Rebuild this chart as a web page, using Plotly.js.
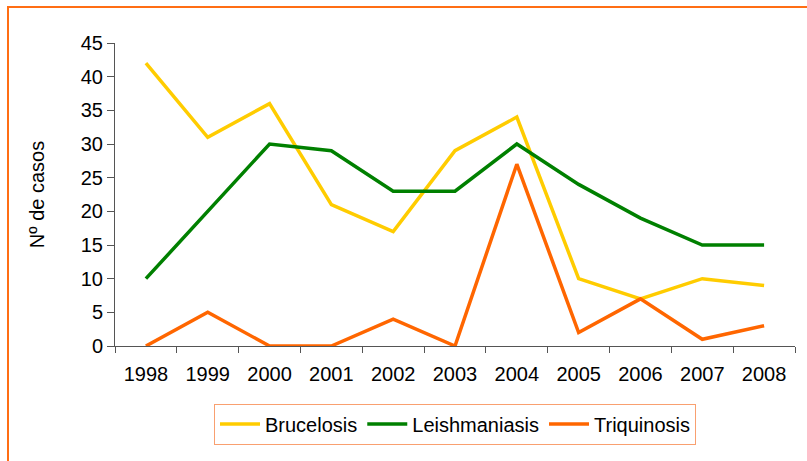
<!DOCTYPE html>
<html>
<head>
<meta charset="utf-8">
<script src="https://cdn.plot.ly/plotly-3.0.1.min.js"></script>
<style>
html,body{margin:0;padding:0;background:#fff;overflow:hidden;}
#frame{position:absolute;left:7px;top:6px;width:830px;height:520px;border:2px solid #FF6E14;box-sizing:border-box;pointer-events:none;z-index:5;}
#chart{position:absolute;left:0;top:0;width:807px;height:461px;}
</style>
</head>
<body>
<div id="chart"></div>
<div id="frame"></div>
<script>
const years = ["1998","1999","2000","2001","2002","2003","2004","2005","2006","2007","2008"];
const brucelosis = [42, 31, 36, 21, 17, 29, 34, 10, 7, 10, 9];
const leishmaniasis = [10, 20, 30, 29, 23, 23, 30, 24, 19, 15, 15];
const triquinosis = [0, 5, 0, 0, 4, 0, 27, 2, 7, 1, 3];
const yTicks = [0, 5, 10, 15, 20, 25, 30, 35, 40, 45];

const mk = (name, y, color) => ({
  x: years, y: y, name: name, type: 'scatter', mode: 'lines',
  line: {color: color, width: 3.5}
});

const data = [
  mk('Brucelosis', brucelosis, '#FFCC00'),
  mk('Leishmaniasis', leishmaniasis, '#008000'),
  mk('Triquinosis', triquinosis, '#FF6600')
];

const layout = {
  width: 807, height: 461,
  margin: {l: 115, r: 12, t: 43, b: 115},
  paper_bgcolor: '#fff', plot_bgcolor: '#fff',
  font: {family: 'Liberation Sans, Arial, sans-serif', size: 20, color: '#000'},
  showlegend: true,
  legend: {
    orientation: 'h', x: 0.5, xanchor: 'center', y: -0.19, yanchor: 'top',
    bordercolor: '#F9A070', borderwidth: 1, bgcolor: '#fff',
    font: {size: 20}, traceorder: 'normal', itemwidth: 40
  },
  xaxis: {
    type: 'category', range: [-0.5, 10.5], tickson: 'boundaries', ticks: 'outside', ticklen: 6,
    tickcolor: '#555', showline: true, linecolor: '#555', linewidth: 1,
    showgrid: false, zeroline: false, fixedrange: true,
    tickfont: {size: 20}, ticklabelstandoff: 10
  },
  yaxis: {
    range: [0, 45], tickvals: yTicks, ticks: 'outside', ticklen: 7,
    tickcolor: '#555', showline: true, linecolor: '#555', linewidth: 1,
    showgrid: false, zeroline: false, tickfont: {size: 20},
    title: {text: 'Nº de casos', font: {size: 20}, standoff: 30}
  }
};

Plotly.newPlot('chart', data, layout, {staticPlot: true});
</script>
</body>
</html>
